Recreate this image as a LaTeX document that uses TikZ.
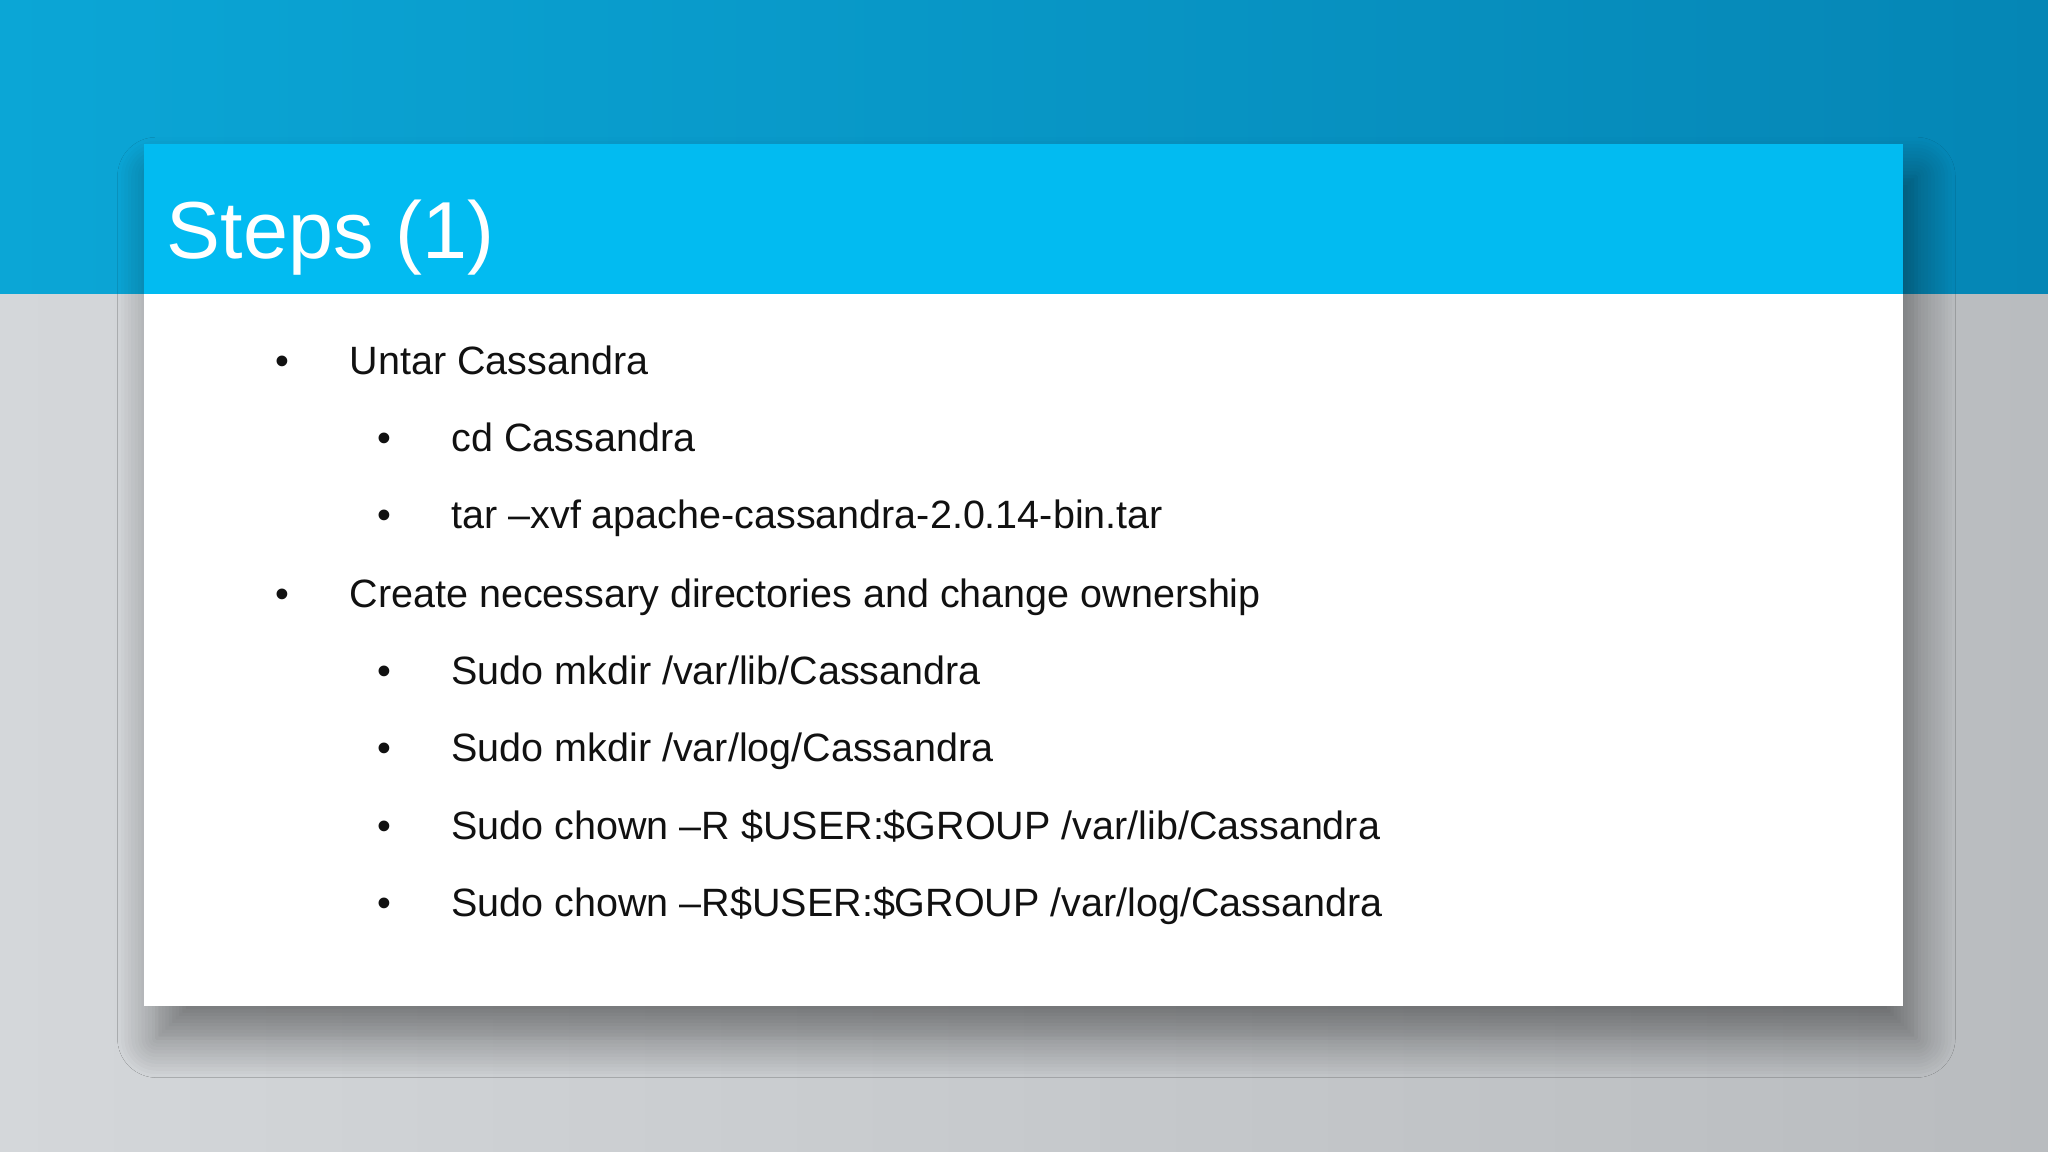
\documentclass[tikz,border=0pt]{standalone}
\usepackage{fontspec}
\setmainfont{Liberation Sans}
\usetikzlibrary{shadows.blur}
\definecolor{topA}{HTML}{0BA6D6}
\definecolor{topB}{HTML}{0586B5}
\definecolor{grayA}{HTML}{D4D7DA}
\definecolor{grayB}{HTML}{B9BCBF}
\definecolor{head}{HTML}{02BBF1}
\definecolor{txt}{HTML}{111111}
\tikzset{
  body/.style={anchor=base west, font=\fontsize{8.6}{10}\selectfont, text=txt, inner sep=0pt},
  bul/.style={anchor=base, font=\fontsize{8.6}{10}\selectfont, text=txt, inner sep=0pt}
}
\begin{document}
\begin{tikzpicture}[x=0.01cm,y=-0.01cm]
\useasboundingbox (0,0) rectangle (1568,882);
\shade[left color=grayA,right color=grayB] (0,225) rectangle (1568,882);
\shade[left color=topA,right color=topB] (0,0) rectangle (1568,225);
\fill[white, blur shadow={shadow xshift=0.1cm, shadow yshift=-0.25cm, shadow blur steps=12, shadow blur radius=0.3cm, shadow opacity=45}] (110,110) rectangle (1457,770);
\fill[head] (110,110) rectangle (1457,225);
\node[anchor=base west, inner sep=0pt, text=white, font=\fontsize{17.6}{20}\selectfont] (title) at (127,198) {Steps (1)};
\foreach \lvl/\y/\t [count=\i] in {
 1/287/{Untar Cassandra},
 2/346/{cd Cassandra},
 2/405/{tar –xvf apache-cassandra-2.0.14-bin.tar},
 1/465/{Create necessary directories and change ownership},
 2/524/{Sudo mkdir /var/lib/Cassandra},
 2/583/{Sudo mkdir /var/log/Cassandra},
 2/643/{Sudo chown –R \$USER:\$GROUP /var/lib/Cassandra},
 2/702/{Sudo chown –R\$USER:\$GROUP /var/log/Cassandra}}{
  \pgfmathsetmacro{\bx}{\lvl==1 ? 216 : 294}
  \pgfmathsetmacro{\tx}{\lvl==1 ? 267 : 345}
  \node[bul] (b\i) at (\bx,\y) {•};
  \node[body] (t\i) at (\tx,\y) {\t};
}
\end{tikzpicture}
\end{document}
